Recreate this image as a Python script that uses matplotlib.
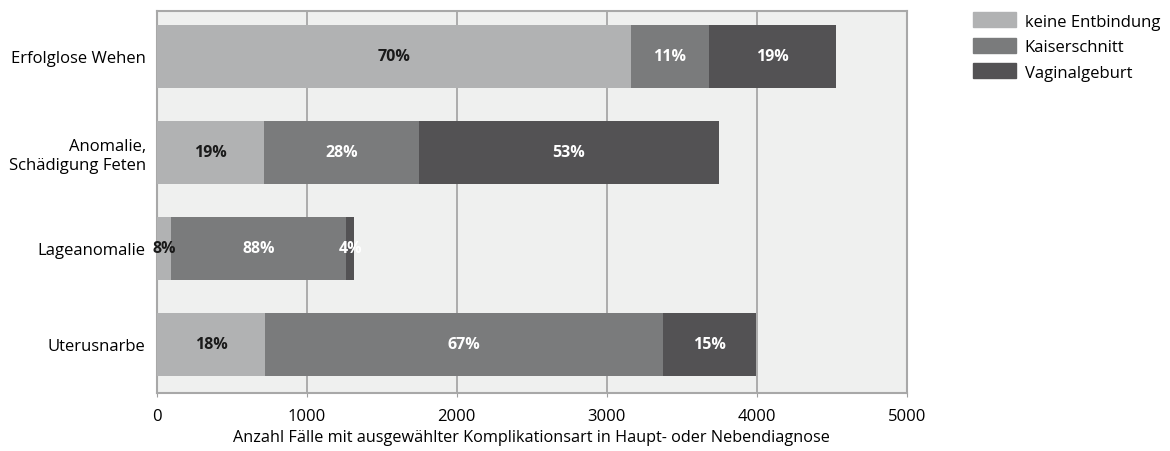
import matplotlib

matplotlib.use("Agg")
import matplotlib.pyplot as plt
from matplotlib.patches import Patch

plt.rcParams["font.family"] = ["Open Sans", "DejaVu Sans"]

categories = ["Erfolglose Wehen", "Anomalie,\nSchädigung Feten", "Lageanomalie", "Uterusnarbe"]
series = ["keine Entbindung", "Kaiserschnitt", "Vaginalgeburt"]
keine = [3160, 715, 94, 722]
kaiser = [520, 1030, 1168, 2655]
vaginal = [850, 2000, 55, 615]
pct_keine = ["70%", "19%", "8%", "18%"]
pct_kaiser = ["11%", "28%", "88%", "67%"]
pct_vaginal = ["19%", "53%", "4%", "15%"]

colors = ["#b1b2b3", "#7a7b7c", "#535254"]
text_colors = ["#1a1a1a", "white", "white"]

fig = plt.figure(figsize=(11.7, 4.52), dpi=100)
ax = fig.add_axes([0.134, 0.128, 0.641, 0.845])
ax.set_facecolor("#eff0ef")

y = list(range(len(categories)))
left = [0] * len(categories)
for vals, pcts, col, tcol in zip(
    [keine, kaiser, vaginal], [pct_keine, pct_kaiser, pct_vaginal], colors, text_colors
):
    bars = ax.barh(y, vals, left=left, height=0.66, color=col, zorder=3)
    for b, p in zip(bars, pcts):
        ax.text(b.get_x() + b.get_width() / 2, b.get_y() + b.get_height() / 2, p,
                ha="center", va="center", color=tcol, fontsize=11.5,
                fontweight="bold", zorder=4)
    left = [l + v for l, v in zip(left, vals)]

ax.set_xlim(0, 5000)
ax.set_ylim(3.51, -0.47)
ax.set_xticks([0, 1000, 2000, 3000, 4000, 5000])
ax.set_yticks(y)
ax.set_yticklabels(categories, fontsize=12)
ax.tick_params(axis="x", labelsize=12, color="#a0a0a0", length=3, pad=8)
ax.tick_params(axis="y", length=0, pad=8)
ax.grid(axis="x", color="#a0a0a0", lw=1.2, zorder=1)
for s in ax.spines.values():
    s.set_color("#a8a8a8")
    s.set_linewidth(1.5)
ax.set_xlabel("Anzahl Fälle mit ausgewählter Komplikationsart in Haupt- oder Nebendiagnose",
              fontsize=11.7, labelpad=3)

handles = [Patch(color=c, label=s) for c, s in zip(colors, series)]
fig.legend(handles=handles, loc="upper left", bbox_to_anchor=(0.826, 0.985),
           frameon=False, fontsize=12, handlelength=2.6, handleheight=1.0,
           labelspacing=0.5, handletextpad=0.5, borderaxespad=0)

fig.savefig("out.png", dpi=100)
